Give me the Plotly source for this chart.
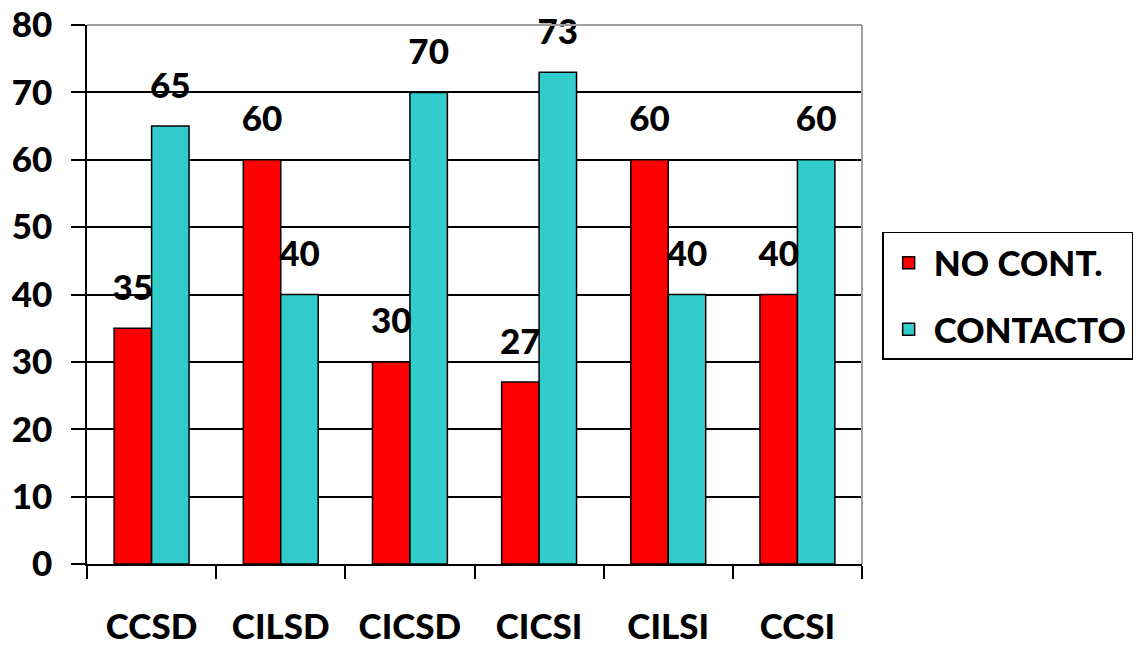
import plotly.graph_objects as go

categories = ["CCSD", "CILSD", "CICSD", "CICSI", "CILSI", "CCSI"]
no_cont = [35, 60, 30, 27, 60, 40]
contacto = [65, 40, 70, 73, 40, 60]
series_names = ["NO CONT.", "CONTACTO"]
y_ticks = [0, 10, 20, 30, 40, 50, 60, 70, 80]

RED = "#FF0000"
CYAN = "#33CCCC"
FONT = "Lato"
BIG = 35
WEIGHT = 900

fig = go.Figure()

for name, vals, color, grp in [
    (series_names[0], no_cont, RED, "a"),
    (series_names[1], contacto, CYAN, "b"),
]:
    fig.add_trace(go.Bar(
        x=categories, y=vals, name=name,
        marker=dict(color=color, line=dict(color="black", width=1.5)),
        offsetgroup=grp, legendgroup=grp,
    ))

# value labels sitting above each bar
for vals, grp in [(no_cont, "a"), (contacto, "b")]:
    fig.add_trace(go.Scatter(
        x=categories, y=vals, mode="text+markers",
        text=[str(v) for v in vals], textposition="top center",
        textfont=dict(family=FONT, size=BIG, color="black", weight=WEIGHT),
        marker=dict(size=30, opacity=0),
        offsetgroup=grp, showlegend=False, hoverinfo="skip",
        cliponaxis=False,
    ))

tick_font = dict(family=FONT, size=BIG, color="black", weight=WEIGHT)

fig.update_layout(
    width=1139, height=646,
    margin=dict(l=87, r=277, t=25, b=82, autoexpand=False),
    paper_bgcolor="white", plot_bgcolor="white",
    barmode="group", bargap=0.42, bargroupgap=0,
    scattermode="group", scattergap=0.42,
    font=tick_font,
    showlegend=True,
    legend=dict(
        x=1.026, y=0.616, xanchor="left", yanchor="top",
        bordercolor="black", borderwidth=1.5, bgcolor="white",
        font=tick_font, tracegroupgap=18, itemwidth=40,
    ),
    xaxis=dict(
        type="category", tickson="boundaries", ticks="outside", ticklen=13,
        tickcolor="black", tickwidth=1.5, automargin=False,
        showline=True, linecolor="black", linewidth=1.5,
        showgrid=False, ticklabelstandoff=31, tickfont=tick_font,
    ),
    yaxis=dict(
        range=[0, 80], tickvals=y_ticks, ticks="outside", ticklen=14,
        tickcolor="black", tickwidth=1.5, automargin=False,
        showline=True, linecolor="black", linewidth=1.5,
        showgrid=True, gridcolor="black", gridwidth=1.5,
        zeroline=False, ticklabelstandoff=12, tickfont=tick_font,
    ),
    shapes=[
        dict(type="line", xref="paper", yref="paper", x0=0, x1=1, y0=1, y1=1,
             line=dict(color="#A0A0A0", width=2), layer="above"),
        dict(type="line", xref="paper", yref="paper", x0=1, x1=1, y0=0, y1=1,
             line=dict(color="#A0A0A0", width=2), layer="above"),
    ],
)

fig.write_html("out.html")
